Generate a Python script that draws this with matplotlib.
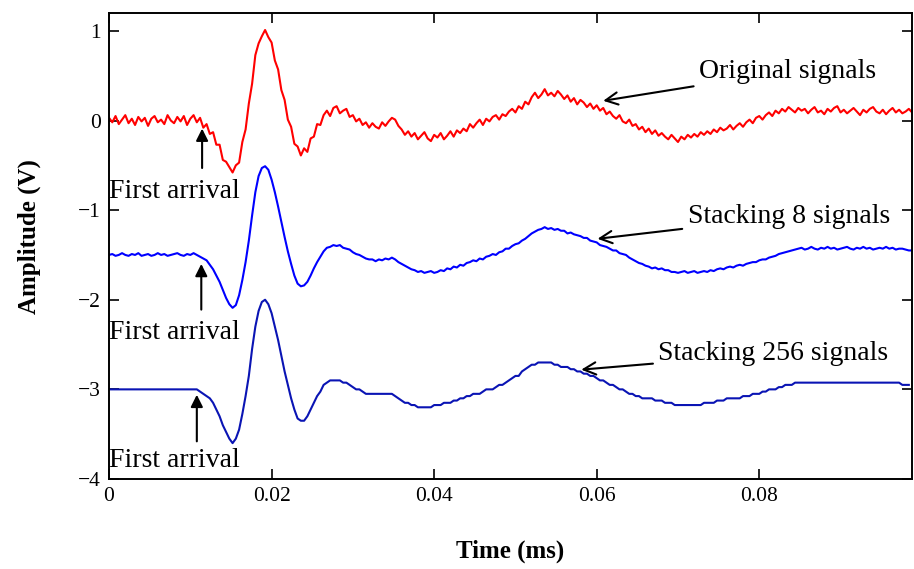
import numpy as np
import matplotlib
matplotlib.use('Agg')
import matplotlib.pyplot as plt

plt.rcParams['font.family'] = ['Liberation Serif', 'DejaVu Serif']

dt = 0.0004  # sample spacing (ms)

# original (unstacked) signal, V
original = ([0.03, -0.02, 0.05, -0.04, 0.01, 0.06, -0.03, 0.02, -0.05, 0.04,
             -0.01, 0.03, -0.06, 0.02, 0.05, -0.02, 0.01, -0.04, 0.06, 0.00,
             -0.03, 0.04, -0.01, 0.05, -0.05, 0.02, 0.06, -0.02]
            + [0.03, -0.08, -0.04, -0.15, -0.13, -0.27, -0.27, -0.44, -0.46, -0.52,
               -0.58, -0.50, -0.47, -0.24, -0.10, 0.19, 0.41, 0.73, 0.86, 0.94,
               1.01, 0.93, 0.87, 0.67, 0.57, 0.34, 0.23, 0.01, -0.07, -0.26,
               -0.29, -0.39, -0.31, -0.35, -0.20, -0.18, -0.04, -0.05]
            + [0.06, 0.11, 0.05, 0.14, 0.16, 0.08, 0.11, 0.13, 0.04, 0.06,
               -0.01, 0.02, -0.05, -0.02, -0.08, -0.03, -0.07, -0.09, -0.02, -0.06,
               -0.01, 0.03, 0.01, -0.06, -0.10, -0.16, -0.12, -0.18, -0.14, -0.21,
               -0.17, -0.13, -0.20, -0.23, -0.16, -0.19, -0.14, -0.21, -0.17, -0.12,
               -0.18, -0.11, -0.14, -0.09, -0.12, -0.04, -0.08, -0.03, 0.01, -0.05,
               0.02, -0.01, 0.04, 0.06, 0.01, 0.07, 0.05, 0.10, 0.13, 0.09,
               0.16, 0.13, 0.21, 0.18, 0.26, 0.31, 0.25, 0.29, 0.35, 0.28,
               0.31, 0.27, 0.33, 0.29, 0.24, 0.28, 0.21, 0.25, 0.18, 0.23,
               0.20, 0.15, 0.19, 0.13, 0.17, 0.11, 0.14, 0.07, 0.10, 0.05,
               0.02, 0.06, -0.01, -0.03, 0.01, -0.06, -0.04, -0.10, -0.07, -0.13,
               -0.09, -0.15, -0.11, -0.17, -0.14, -0.18, -0.21, -0.16, -0.20, -0.24,
               -0.18, -0.21, -0.16, -0.19, -0.15, -0.18, -0.13, -0.16, -0.12, -0.15,
               -0.10, -0.13, -0.08, -0.11, -0.09, -0.05, -0.10, -0.06, -0.03, -0.07,
               -0.02, 0.01, -0.03, 0.03, 0.05, 0.01, 0.06, 0.09, 0.05, 0.11,
               0.08, 0.13, 0.10, 0.15, 0.12, 0.09, 0.14, 0.11]
            + [0.13, 0.08, 0.12, 0.15, 0.09, 0.11, 0.07, 0.13, 0.10, 0.14,
               0.16, 0.09, 0.12, 0.08, 0.11, 0.14, 0.10, 0.06, 0.12, 0.09,
               0.13, 0.15, 0.10, 0.08, 0.12, 0.07, 0.11, 0.14, 0.09, 0.12,
               0.08, 0.10, 0.13, 0.09])

# average of 8 signals, plotted 1.5 V lower
stack8 = ([-1.50, -1.49, -1.51, -1.50, -1.48, -1.50, -1.51, -1.49, -1.50, -1.48,
           -1.51, -1.50, -1.49, -1.51, -1.50, -1.48, -1.50, -1.49, -1.51, -1.50,
           -1.49, -1.48, -1.50, -1.51, -1.49, -1.50, -1.48, -1.50]
          + [-1.52, -1.54, -1.56, -1.61, -1.66, -1.73, -1.80, -1.89, -1.98, -2.05,
             -2.09, -2.06, -1.95, -1.78, -1.58, -1.34, -1.06, -0.80, -0.62, -0.53,
             -0.51, -0.55, -0.66, -0.80, -0.96, -1.13, -1.30, -1.46, -1.60, -1.73,
             -1.82, -1.85, -1.84, -1.80, -1.73, -1.65, -1.58, -1.52, -1.46, -1.42,
             -1.41, -1.39, -1.40, -1.39, -1.42, -1.43, -1.44, -1.47, -1.49, -1.50,
             -1.52, -1.54, -1.55, -1.55, -1.57, -1.55, -1.56, -1.54, -1.55, -1.53,
             -1.55, -1.58, -1.60, -1.62, -1.64, -1.66, -1.67, -1.69, -1.68, -1.70,
             -1.69, -1.68, -1.70, -1.69, -1.67, -1.68, -1.65, -1.66, -1.63, -1.64,
             -1.61, -1.62, -1.59, -1.58, -1.56, -1.57, -1.54, -1.55, -1.52, -1.51,
             -1.49, -1.50, -1.47, -1.46, -1.43, -1.43, -1.40, -1.38, -1.37, -1.34,
             -1.32, -1.29, -1.26, -1.24, -1.22, -1.21, -1.19, -1.21, -1.20, -1.22,
             -1.21, -1.23, -1.23, -1.26, -1.25, -1.27, -1.28, -1.29, -1.31, -1.31,
             -1.34, -1.35, -1.36, -1.39, -1.40, -1.41, -1.43, -1.45, -1.45, -1.48,
             -1.49, -1.50, -1.53, -1.55, -1.57, -1.59, -1.60, -1.62, -1.63, -1.65,
             -1.64, -1.66, -1.65, -1.67, -1.67, -1.69, -1.69, -1.70, -1.69, -1.68,
             -1.70, -1.69, -1.68, -1.70, -1.69, -1.68, -1.69, -1.67, -1.68, -1.66,
             -1.65, -1.66, -1.64, -1.63, -1.64, -1.62, -1.61, -1.62, -1.60, -1.59,
             -1.58, -1.58, -1.56, -1.55, -1.55, -1.53, -1.52, -1.51, -1.49, -1.48,
             -1.47, -1.46, -1.45, -1.44, -1.43]
          + [-1.42, -1.44, -1.43, -1.41, -1.43, -1.44, -1.42, -1.43, -1.41, -1.43,
             -1.42, -1.44, -1.43, -1.42, -1.41, -1.43, -1.44, -1.42, -1.43, -1.41,
             -1.43, -1.42, -1.44, -1.43, -1.42, -1.43, -1.41, -1.43, -1.42, -1.44,
             -1.43, -1.43, -1.44, -1.45, -1.45])

# average of 256 signals, plotted 3 V lower (quantised)
stack256 = ([-3.0] * 28
            + [-3.025, -3.05, -3.075, -3.1, -3.15, -3.225, -3.3, -3.4, -3.475, -3.55,
               -3.6, -3.55, -3.45, -3.275, -3.075, -2.85, -2.55, -2.3, -2.125, -2.025,
               -2.0, -2.05, -2.15, -2.3, -2.45, -2.625, -2.8, -2.95, -3.1, -3.225,
               -3.325, -3.35, -3.35, -3.3, -3.225, -3.15, -3.075, -3.025, -2.95, -2.925,
               -2.9, -2.9, -2.9, -2.9, -2.925, -2.925, -2.95, -2.975, -3.0, -3.0,
               -3.025, -3.05, -3.05, -3.05, -3.05, -3.05, -3.05, -3.05, -3.05, -3.05,
               -3.075, -3.1, -3.125, -3.15, -3.15, -3.175, -3.175]
            + [-3.2] * 5
            + [-3.175, -3.175, -3.175, -3.15, -3.15, -3.15, -3.125, -3.125, -3.1, -3.1,
               -3.075, -3.075, -3.05, -3.05, -3.05, -3.025, -3.0, -3.0, -3.0, -2.975,
               -2.95, -2.95, -2.925, -2.9, -2.875, -2.85, -2.85, -2.8, -2.775, -2.75,
               -2.725, -2.725]
            + [-2.7] * 5
            + [-2.725, -2.725, -2.75, -2.75, -2.75, -2.775, -2.775, -2.8, -2.8, -2.825,
               -2.825, -2.85, -2.85, -2.875, -2.9, -2.9, -2.925, -2.95, -2.95, -2.975,
               -3.0, -3.0, -3.025, -3.05, -3.05, -3.075, -3.075, -3.1, -3.1, -3.1,
               -3.1, -3.125, -3.125, -3.125, -3.15, -3.15, -3.15]
            + [-3.175] * 9
            + [-3.15, -3.15, -3.15, -3.15, -3.125, -3.125, -3.125, -3.1, -3.1, -3.1,
               -3.1, -3.1, -3.075, -3.075, -3.075, -3.05, -3.05, -3.05, -3.025, -3.025,
               -3.0, -3.0, -3.0, -2.975, -2.975, -2.95, -2.95, -2.95]
            + [-2.925] * 33
            + [-2.95] * 3)

xticks = [0, 0.02, 0.04, 0.06, 0.08]
xticklabels = ['0', '0.02', '0.04', '0.06', '0.08']
yticks = [-4, -3, -2, -1, 0, 1]

fig = plt.figure(figsize=(9.14, 5.69), dpi=100)
ax = fig.add_axes([0.1193, 0.1582, 0.8786, 0.819])

t0 = np.arange(len(original)) * dt
t1 = np.arange(len(stack8)) * dt
t2 = np.arange(len(stack256)) * dt
ax.plot(t0, original, color='#ff0000', lw=1.5)
ax.plot(t1, stack8, color='#0000ff', lw=1.5)
ax.plot(t2, stack256, color='#0a14b4', lw=1.5)

ax.set_xlim(0, 0.0988)
ax.set_ylim(-4, 1.2)
ax.set_xticks(xticks)
ax.set_xticklabels(xticklabels)
ax.set_yticks(yticks)
ax.set_yticklabels(['\u2212%d' % -v if v < 0 else '%d' % v for v in yticks])
ax.tick_params(direction='in', top=True, right=True, length=7, width=1.2,
               labelsize=15.5, pad=6)
for sp in ax.spines.values():
    sp.set_linewidth(1.4)

ax.set_xlabel('Time (ms)', fontsize=18, fontweight='bold')
ax.set_ylabel('Amplitude (V)', fontsize=18, fontweight='bold')
ax.xaxis.set_label_coords(0.5, -0.13)
ax.yaxis.set_label_coords(-0.085, 0.52)

# labels with arrows
big = 20
ax.annotate('Original signals', xy=(0.0608, 0.22), xytext=(0.0726, 0.55),
            fontsize=big, va='center', ha='left',
            arrowprops=dict(arrowstyle='->', lw=1.5, color='k',
                            mutation_scale=22, shrinkA=2, shrinkB=0))
ax.annotate('Stacking 8 signals', xy=(0.0601, -1.32), xytext=(0.0712, -1.07),
            fontsize=big, va='center', ha='left',
            arrowprops=dict(arrowstyle='->', lw=1.5, color='k',
                            mutation_scale=22, shrinkA=2, shrinkB=0))
ax.annotate('Stacking 256 signals', xy=(0.0581, -2.78), xytext=(0.0676, -2.60),
            fontsize=big, va='center', ha='left',
            arrowprops=dict(arrowstyle='->', lw=1.5, color='k',
                            mutation_scale=22, shrinkA=2, shrinkB=0))

arrivals = [(0.01145, -0.09, -0.53, -0.79),
            (0.01135, -1.60, -2.11, -2.36),
            (0.0108, -3.06, -3.58, -3.79)]
for x, tip, tail, ytxt in arrivals:
    ax.annotate('', xy=(x, tip), xytext=(x, tail),
                arrowprops=dict(arrowstyle='-|>', lw=1.5, color='k',
                                mutation_scale=18, shrinkA=0, shrinkB=0))
    ax.text(0.0080, ytxt, 'First arrival', fontsize=big, ha='center', va='center')

fig.savefig('out.png', dpi=100)
